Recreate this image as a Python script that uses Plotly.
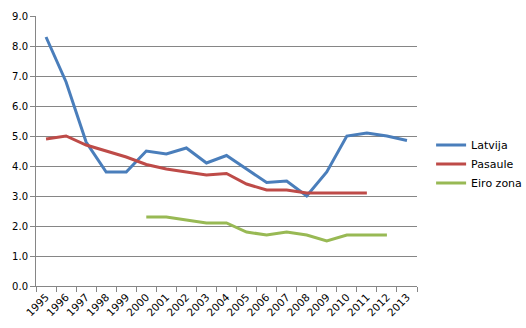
import plotly.graph_objects as go

years = [str(y) for y in range(1995, 2014)]
latvija = [8.3, 6.8, 4.8, 3.8, 3.8, 4.5, 4.4, 4.6, 4.1, 4.35, 3.9, 3.45, 3.5, 3.0, 3.8, 5.0, 5.1, 5.0, 4.85]
pasaule = [4.9, 5.0, 4.7, 4.5, 4.3, 4.05, 3.9, 3.8, 3.7, 3.75, 3.4, 3.2, 3.2, 3.1, 3.1, 3.1, 3.1, None, None]
eiro = [None, None, None, None, None, 2.3, 2.3, 2.2, 2.1, 2.1, 1.8, 1.7, 1.8, 1.7, 1.5, 1.7, 1.7, 1.7, None]
y_ticks = [i for i in range(0, 10)]
y_labels = [f"{v:.1f}" for v in y_ticks]

fig = go.Figure()
fig.add_trace(go.Scatter(x=years, y=latvija, name="Latvija", mode="lines",
                         line=dict(color="#4A7EBB", width=3)))
fig.add_trace(go.Scatter(x=years, y=pasaule, name="Pasaule", mode="lines",
                         line=dict(color="#BE4B48", width=3)))
fig.add_trace(go.Scatter(x=years, y=eiro, name="Eiro zona", mode="lines",
                         line=dict(color="#98B954", width=3)))

fig.update_layout(
    width=526, height=328,
    margin=dict(l=36, r=109, t=16, b=42, autoexpand=False),
    paper_bgcolor="white", plot_bgcolor="white",
    font=dict(family="DejaVu Sans", size=10, color="black"),
    legend=dict(x=1.037, y=0.452, xanchor="left", yanchor="middle",
                font=dict(size=11), tracegroupgap=0, itemwidth=30),
    xaxis=dict(type="category", tickangle=-45, ticks="outside", ticklen=5,
               tickson="boundaries", tickcolor="#868686", showline=True,
               linecolor="#868686", showgrid=False, range=[-0.5, 18.5],
               tickfont=dict(size=10.5)),
    yaxis=dict(range=[0, 9], tickvals=y_ticks, ticktext=y_labels, ticks="outside",
               ticklen=5, tickcolor="#868686", showline=True, linecolor="#868686",
               showgrid=True, gridcolor="#868686", gridwidth=1, zeroline=False),
)
fig.write_html("out.html")
